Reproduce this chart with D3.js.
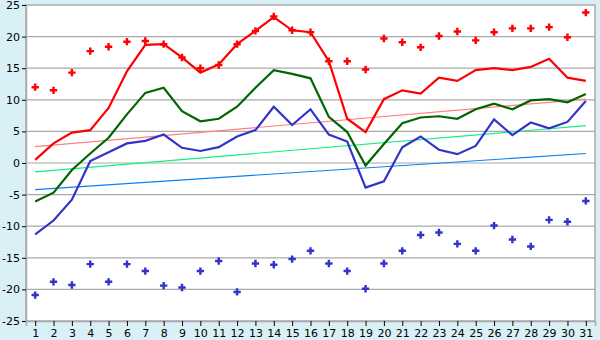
<!DOCTYPE html>
<html><head><meta charset="utf-8">
<script src="https://cdn.jsdelivr.net/npm/d3@7/dist/d3.min.js"></script>
<style>body{margin:0;background:#daf0f7;}svg{display:block;}</style>
</head><body><svg id="c" width="600" height="340"></svg>
<script>
const days = d3.range(1, 32);
const yTicks = [-25,-20,-15,-10,-5,0,5,10,15,20,25];
const maxT = [0.5,3.1,4.8,5.2,8.7,14.5,18.7,18.8,16.7,14.3,15.6,18.8,20.9,23.1,21.0,20.7,16.1,7.0,4.9,10.1,11.5,11.0,13.5,13.0,14.7,15.0,14.7,15.2,16.5,13.5,13.0];
const meanT = [-6.1,-4.7,-1.1,1.5,4.0,7.7,11.1,11.9,8.2,6.6,7.0,8.9,11.9,14.7,14.1,13.4,7.3,4.9,-0.4,3.0,6.3,7.2,7.4,7.0,8.5,9.4,8.5,9.9,10.1,9.6,10.9];
const minT = [-11.3,-9.1,-5.8,0.3,1.7,3.1,3.5,4.5,2.4,1.9,2.5,4.2,5.2,8.9,6.0,8.5,4.5,3.4,-3.9,-2.9,2.5,4.2,2.1,1.4,2.7,6.9,4.4,6.4,5.5,6.5,9.8];
const recHigh = [12.0,11.5,14.3,17.7,18.4,19.2,19.3,18.8,16.7,15.0,15.5,18.8,20.9,23.2,21.0,20.7,16.1,16.1,14.8,19.7,19.1,18.3,20.1,20.8,19.4,20.7,21.3,21.3,21.5,19.9,23.8];
const recLow = [-20.9,-18.8,-19.3,-16.0,-18.8,-16.0,-17.1,-19.4,-19.7,-17.1,-15.5,-20.4,-15.9,-16.1,-15.2,-13.9,-15.9,-17.1,-19.9,-15.9,-13.9,-11.4,-11.0,-12.8,-13.9,-9.9,-12.1,-13.2,-9.0,-9.3,-6.0];
// trend lines: values at day 1 and day 31
const trendMax = [2.6, 10.1];
const trendMean = [-1.4, 5.9];
const trendMin = [-4.2, 1.5];

const svg = d3.select("#c");
const L = 26, R = 595, T = 5, B = 321;
const x = d3.scaleLinear().domain([0.5, 31.5]).range([L, R]);
const y = d3.scaleLinear().domain([-25, 25]).range([B, T]);

svg.append("rect").attr("x", L).attr("y", T).attr("width", R - L).attr("height", B - T).attr("fill", "#fff");

// grid
svg.append("g").selectAll("line").data(yTicks.filter(d => d > -25 && d < 25)).join("line")
  .attr("x1", L).attr("x2", R).attr("y1", d => y(d)).attr("y2", d => y(d))
  .attr("stroke", "#aaaaaa").attr("stroke-width", 1.2);

// frame
svg.append("rect").attr("x", L).attr("y", T).attr("width", R - L).attr("height", B - T)
  .attr("fill", "none").attr("stroke", "#aaaaaa").attr("stroke-width", 1.5);

// axes
const ya = svg.append("g").attr("transform", `translate(${L},0)`)
  .call(d3.axisLeft(y).tickValues(yTicks).tickFormat(d => String(d)).tickSize(4).tickPadding(2));
const xa = svg.append("g").attr("transform", `translate(0,${B})`)
  .call(d3.axisBottom(x).tickValues(days).tickFormat(d => String(d)).tickSize(5).tickPadding(3));
[ya, xa].forEach(a => {
  a.select(".domain").attr("stroke", "#aaaaaa").attr("stroke-width", 1.5);
  a.selectAll(".tick line").attr("stroke", "#000");
  a.selectAll("text").attr("font-family", "DejaVu Sans").attr("font-size", 11).attr("fill", "#000");
});

// trend lines
function trend(vals, color) {
  svg.append("line").attr("x1", x(1)).attr("x2", x(31)).attr("y1", y(vals[0])).attr("y2", y(vals[1]))
    .attr("stroke", color).attr("stroke-width", 1.2);
}
trend(trendMax, "#ff8080");
trend(trendMean, "#11f080");
trend(trendMin, "#0a80f0");

const line = d3.line().x((d, i) => x(days[i])).y(d => y(d));
function series(vals, color) {
  svg.append("path").attr("d", line(vals)).attr("fill", "none").attr("stroke", color).attr("stroke-width", 2.2);
}
series(maxT, "#ff0000");
series(meanT, "#006600");
series(minT, "#3333cc");

const sym = d3.symbol().type(d3.symbolCross).size(30);
function marks(vals, color) {
  svg.append("g").selectAll("path").data(vals).join("path")
    .attr("transform", (d, i) => `translate(${x(days[i])},${y(d)})`)
    .attr("d", sym).attr("fill", color);
}
marks(recHigh, "#ff0000");
marks(recLow, "#3333cc");
</script></body></html>
